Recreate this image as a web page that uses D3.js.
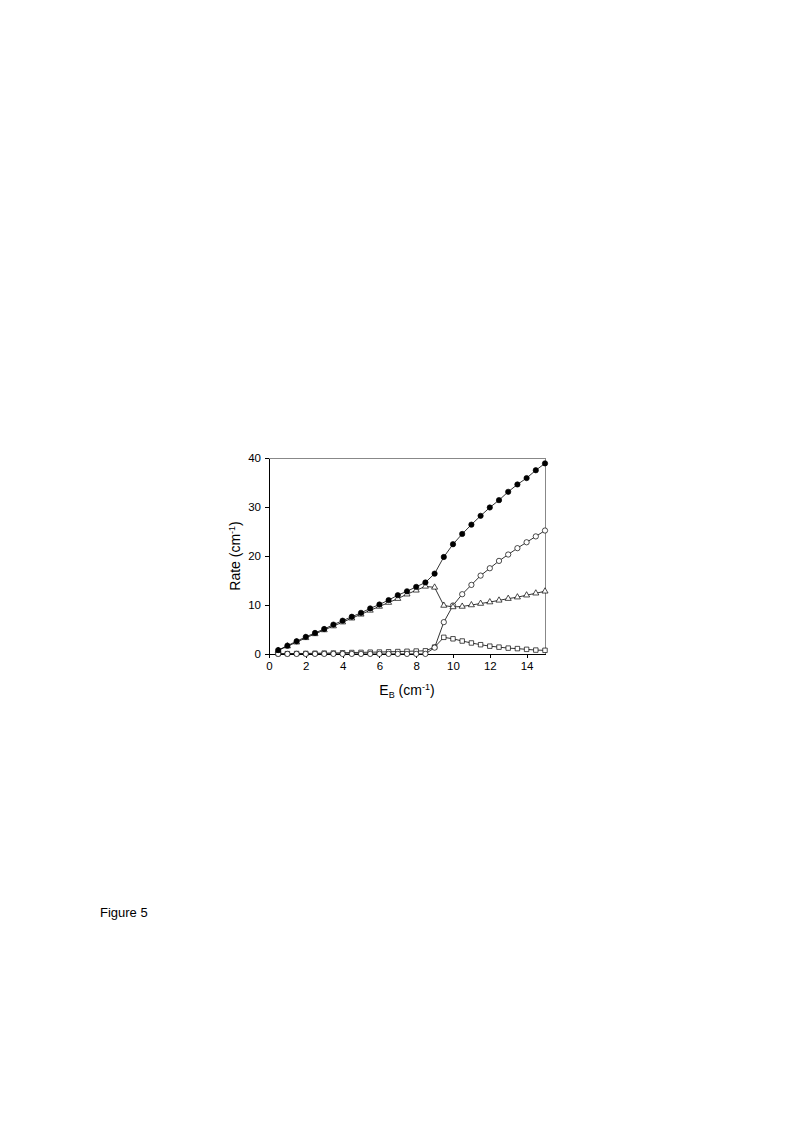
<!DOCTYPE html>
<html lang="en">
<head>
    <meta charset="UTF-8">
    <title>Figure 5</title>
    <script src="https://d3js.org/d3.v7.min.js"></script>
</head>
<body style="margin:0;background:#fff;">
<style>
    svg { font-family: "Liberation Sans", Arial, sans-serif; }
    .axis path, .axis line { stroke: #000; shape-rendering: crispEdges; }
    .axis text { font-size: 11.5px; fill: #000; }
</style>
<div id="chart"></div>
<script>
    // x values (E_B, cm-1)
    var eb = [0.5, 1, 1.5, 2, 2.5, 3, 3.5, 4, 4.5, 5, 5.5, 6, 6.5, 7, 7.5, 8, 8.5,
              9, 9.5, 10, 10.5, 11, 11.5, 12, 12.5, 13, 13.5, 14, 14.5, 15];

    // filled circles
    var total = [0.8, 1.7, 2.6, 3.5, 4.3, 5.1, 6.0, 6.8, 7.6, 8.4, 9.3, 10.1, 11.0, 12.0, 12.8, 13.7, 14.6,
                 16.4, 19.8, 22.4, 24.5, 26.4, 28.2, 29.9, 31.4, 33.1, 34.6, 35.9, 37.5, 38.9];
    // open triangles
    var triangles = [0.7, 1.6, 2.4, 3.3, 4.1, 4.9, 5.7, 6.5, 7.3, 8.1, 8.9, 9.7, 10.5, 11.3, 12.2, 13.0, 13.8,
                     13.6, 9.9, 9.6, 9.7, 10.0, 10.3, 10.6, 10.95, 11.3, 11.6, 12.0, 12.4, 12.8];
    // open circles
    var circles = [0.02, 0.02, 0.02, 0.02, 0.02, 0.02, 0.02, 0.02, 0.02, 0.02, 0.02, 0.02, 0.02, 0.02, 0.02, 0.02, 0.02,
                   1.3, 6.5, 9.9, 12.2, 14.1, 16.0, 17.5, 19.0, 20.3, 21.6, 22.8, 24.0, 25.2];
    // open squares
    var squares = [0.05, 0.07, 0.1, 0.12, 0.15, 0.18, 0.2, 0.25, 0.3, 0.33, 0.37, 0.4, 0.45, 0.5, 0.55, 0.6, 0.65,
                   1.4, 3.4, 3.1, 2.65, 2.25, 1.9, 1.6, 1.4, 1.2, 1.1, 0.95, 0.8, 0.75];

    var xTicks = [0, 2, 4, 6, 8, 10, 12, 14];
    var yTicks = [0, 10, 20, 30, 40];

    var W = 793, H = 1136;
    var plotL = 269, plotR = 545, plotT = 458, plotB = 654;

    var svg = d3.select("#chart").append("svg")
        .attr("width", W)
        .attr("height", H);

    var x = d3.scaleLinear().domain([0, 15]).range([plotL, plotR]);
    var y = d3.scaleLinear().domain([0, 40]).range([plotB, plotT]);

    // gray frame (top and right)
    svg.append("path")
        .attr("d", "M" + plotL + "," + plotT + "H" + plotR + "V" + plotB)
        .attr("fill", "none")
        .attr("stroke", "#888")
        .attr("stroke-width", 1)
        .attr("shape-rendering", "crispEdges");

    svg.append("g").attr("class", "axis")
        .attr("transform", "translate(0," + plotB + ")")
        .call(d3.axisBottom(x).tickValues(xTicks).tickSize(4).tickSizeOuter(0).tickPadding(4).tickFormat(d3.format("d")));

    svg.append("g").attr("class", "axis")
        .attr("transform", "translate(" + plotL + ",0)")
        .call(d3.axisLeft(y).tickValues(yTicks).tickSize(4).tickSizeOuter(0).tickPadding(4).tickFormat(d3.format("d")));

    // axis titles
    var xt = svg.append("text")
        .attr("x", (plotL + plotR) / 2)
        .attr("y", 695)
        .attr("text-anchor", "middle")
        .attr("font-size", 14);
    xt.append("tspan").text("E");
    xt.append("tspan").attr("font-size", 9).attr("dy", 3).text("B");
    xt.append("tspan").attr("dy", -3).text(" (cm");
    xt.append("tspan").attr("font-size", 9).attr("dy", -5).text("-1");
    xt.append("tspan").attr("dy", 5).text(")");

    var yt = svg.append("text")
        .attr("transform", "translate(240," + (plotT + plotB) / 2 + ") rotate(-90)")
        .attr("text-anchor", "middle")
        .attr("font-size", 14);
    yt.append("tspan").text("Rate (cm");
    yt.append("tspan").attr("font-size", 9).attr("dy", -5).text("-1");
    yt.append("tspan").attr("dy", 5).text(")");

    var line = d3.line()
        .x(function (d) { return x(d[0]); })
        .y(function (d) { return y(d[1]); });

    function pairs(vals) {
        return eb.map(function (e, i) { return [e, vals[i]]; });
    }

    var series = [
        {vals: squares, shape: "square"},
        {vals: circles, shape: "circle"},
        {vals: triangles, shape: "triangle"},
        {vals: total, shape: "filled"}
    ];

    series.forEach(function (s) {
        svg.append("path")
            .datum(pairs(s.vals))
            .attr("d", line)
            .attr("fill", "none")
            .attr("stroke", "#000")
            .attr("stroke-width", 0.8);
    });

    var sym = {
        square: d3.symbol().type(d3.symbolSquare).size(20),
        circle: d3.symbol().type(d3.symbolCircle).size(22),
        triangle: d3.symbol().type(d3.symbolTriangle).size(16),
        filled: d3.symbol().type(d3.symbolCircle).size(22)
    };

    series.forEach(function (s) {
        svg.append("g").selectAll("path")
            .data(pairs(s.vals))
            .enter().append("path")
            .attr("transform", function (d) { return "translate(" + x(d[0]) + "," + y(d[1]) + ")"; })
            .attr("d", sym[s.shape])
            .attr("fill", s.shape === "filled" ? "#000" : "#fff")
            .attr("stroke", "#000")
            .attr("stroke-width", 0.7);
    });

    svg.append("text")
        .attr("x", 100)
        .attr("y", 917)
        .attr("font-size", 13)
        .text("Figure 5");
</script>
</body>
</html>
